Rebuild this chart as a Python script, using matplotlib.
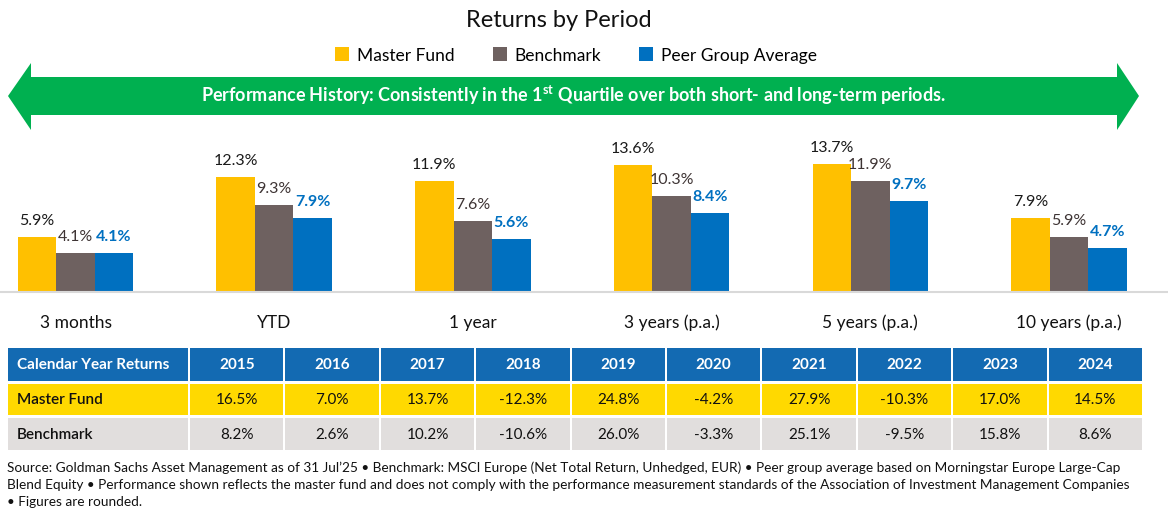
import numpy as np
import matplotlib.pyplot as plt
from matplotlib.patches import Polygon, Rectangle

plt.rcParams['font.family'] = ['Lato', 'DejaVu Sans']
plt.rcParams['mathtext.fontset'] = 'custom'
plt.rcParams['mathtext.rm'] = 'Lato:bold'

# ----------------------
# DATA
# ----------------------
periods = ["3 months", "YTD", "1 year", "3 years (p.a.)", "5 years (p.a.)", "10 years (p.a.)"]
master_fund = [5.9, 12.3, 11.9, 13.6, 13.7, 7.9]
benchmark = [4.1, 9.3, 7.6, 10.3, 11.9, 5.9]
peer_group = [4.1, 7.9, 5.6, 8.4, 9.7, 4.7]

years = ["2015", "2016", "2017", "2018", "2019", "2020", "2021", "2022", "2023", "2024"]
cal_master = [16.5, 7.0, 13.7, -12.3, 24.8, -4.2, 27.9, -10.3, 17.0, 14.5]
cal_bench = [8.2, 2.6, 10.2, -10.6, 26.0, -3.3, 25.1, -9.5, 15.8, 8.6]

series_names = ["Master Fund", "Benchmark", "Peer Group Average"]

YELLOW = "#FFC000"
GREY = "#6E6160"
BLUE = "#0070C0"
GREEN = "#00B050"
HEAD_BLUE = "#136AB2"
ROW_YELLOW = "#FFD900"
ROW_GREY = "#E1DEDD"

footnote = [
    "Source: Goldman Sachs Asset Management as of 31 Jul\u201925 \u2022 Benchmark: MSCI Europe (Net Total Return, Unhedged, EUR) \u2022 Peer group average based on Morningstar Europe Large-Cap",
    "Blend Equity \u2022 Performance shown reflects the master fund and does not comply with the performance measurement standards of the Association of Investment Management Companies",
    "\u2022 Figures are rounded.",
]

# ----------------------
# FIGURE (pixel layout)
# ----------------------
W, H = 1168, 510
fig = plt.figure(figsize=(W / 100, H / 100), dpi=100)
bg = fig.add_axes([0, 0, 1, 1])
bg.set_xlim(0, W)
bg.set_ylim(H, 0)
bg.axis("off")

# title
bg.text(559, 27, "Returns by Period", ha="center", va="baseline", fontsize=17,
        color="#111111")

# green double arrow banner
arrow = Polygon([(8, 97), (31, 64), (31, 78), (1117, 78), (1117, 64), (1139, 97),
                 (1117, 131), (1117, 116), (31, 116), (31, 131)],
                closed=True, facecolor=GREEN, edgecolor="none")
bg.add_patch(arrow)
bg.text(573, 102, r"Performance History: Consistently in the 1$^{\mathrm{st}}$ Quartile over both short- and long-term periods.",
        ha="center", va="baseline", fontsize=13, weight="bold", color="white")

# ----------------------
# BARS
# ----------------------
base_y, top_y, px_per = 292.5, 140, 9.3
step, c0 = 198.7, 75.5
ax = fig.add_axes([0, 1 - base_y / H, 1, (base_y - top_y) / H])
ax.patch.set_alpha(0)
ax.set_ylim(0, (base_y - top_y) / px_per)
ax.set_xlim(-c0 / step, (W - c0) / step)
ax.axis("off")

x = np.arange(len(periods))
bw = 38.5 / step
bars = []
for k, (vals, col) in enumerate(zip([master_fund, benchmark, peer_group], [YELLOW, GREY, BLUE])):
    bars.append(ax.bar(x + (k - 1) * bw, vals, bw, color=col, label=series_names[k]))

ax.axhline(0, color="#D9D9D9", lw=1.5, clip_on=False)

label_styles = [("#1A1A1A", "normal"), ("#3E3434", "normal"), (BLUE, "bold")]
for bc, (lc, lw) in zip(bars, label_styles):
    for b in bc:
        ax.annotate(f"{b.get_height():.1f}%", (b.get_x() + b.get_width() / 2, b.get_height()),
                    xytext=(0, 13), textcoords="offset pixels", ha="center", va="baseline",
                    fontsize=11.5, color=lc, weight=lw)

for xi, p in zip(x, periods):
    ax.annotate(p, (xi, 0), xytext=(0, -36), textcoords="offset pixels", ha="center",
                va="baseline", fontsize=12.5, color="#111111",
                annotation_clip=False)

fig.legend(handles=bars, labels=series_names, loc="center", bbox_to_anchor=(576 / W, 1 - 56 / H),
           ncol=3, frameon=False, fontsize=12.5, handlelength=0.8, handleheight=0.8,
           handletextpad=0.45, columnspacing=2.2, borderaxespad=0)

# ----------------------
# CALENDAR YEAR TABLE
# ----------------------
rows = [("Calendar Year Returns", years, HEAD_BLUE, "white", 349, 382),
        ("Master Fund", [f"{v:.1f}%" for v in cal_master], ROW_YELLOW, "#111111", 385, 416),
        ("Benchmark", [f"{v:.1f}%" for v in cal_bench], ROW_GREY, "#111111", 419, 451)]
col_x0, col_w = 190, 95.4
for label, cells, fc, tc, y0, y1 in rows:
    ym = (y0 + y1) / 2
    bg.add_patch(Rectangle((8, y0), 180, y1 - y0, facecolor=fc, edgecolor="none"))
    bg.text(17, ym, label, ha="left", va="center", fontsize=11, weight="bold" if tc == "white" else "semibold",
            color=tc)
    for i, c in enumerate(cells):
        cx = col_x0 + i * col_w
        bg.add_patch(Rectangle((cx, y0), col_w - 2, y1 - y0, facecolor=fc, edgecolor="none"))
        bg.text(cx + (col_w - 2) / 2, ym, c, ha="center", va="center", fontsize=11,
                weight="bold" if tc == "white" else "normal", color=tc)

# ----------------------
# FOOTNOTE
# ----------------------
for i, line in enumerate(footnote):
    bg.text(7, 472 + i * 17, line, ha="left", va="baseline", fontsize=9.85, color="#111111")

fig.savefig("out.png", dpi=100)
